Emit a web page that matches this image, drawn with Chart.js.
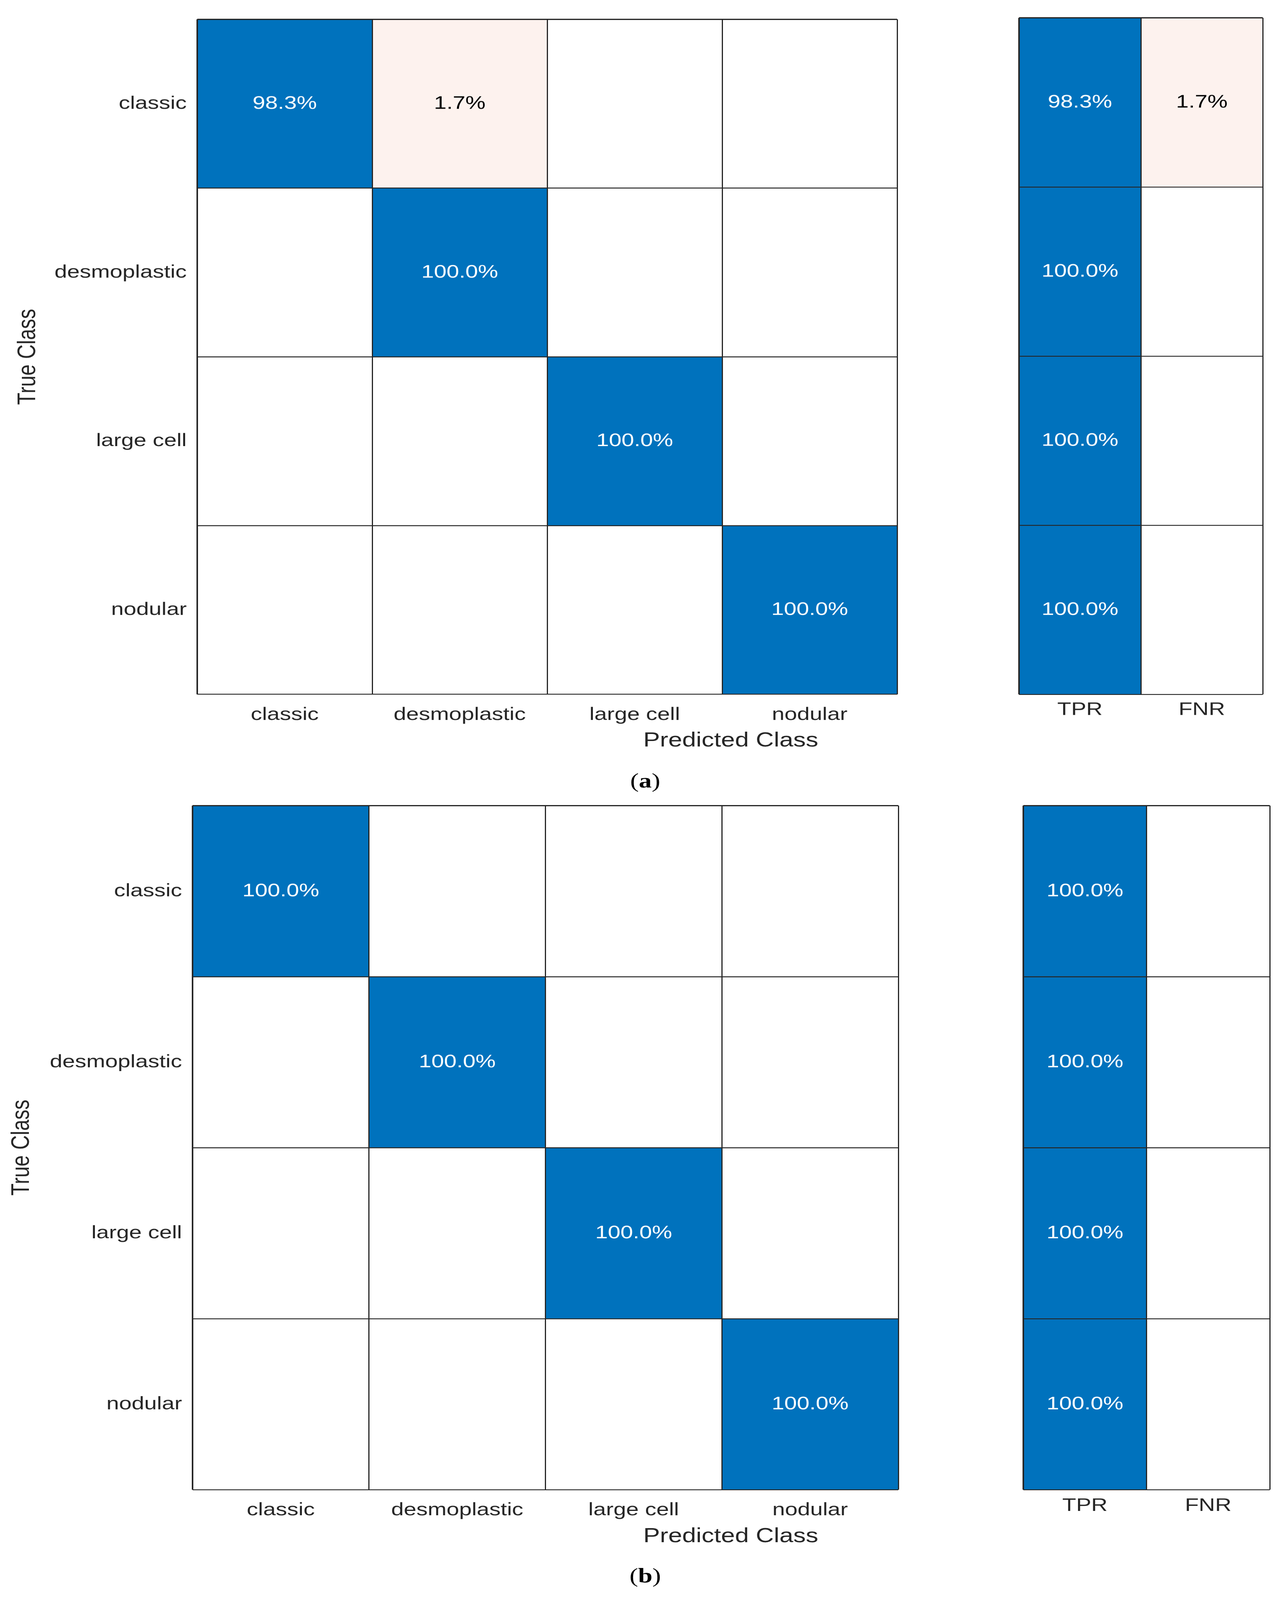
<!DOCTYPE html>
<html>
<head>
<meta charset="utf-8">
<script src="https://cdn.jsdelivr.net/npm/chart.js@4.4.1/dist/chart.umd.min.js"></script>
<style>
  html, body { margin: 0; padding: 0; background: #fff; overflow: hidden; }
  #page { position: relative; width: 3290px; height: 5118px; background: #fff; overflow: hidden; transform-origin: 0 0; }
  canvas { position: absolute; }
  .lbl { position: absolute; transform: translate(-50%, -50%); white-space: nowrap; line-height: 1; }
  .xlab { font: 64px "Liberation Sans", Arial, sans-serif; color: #262626; }
  .cap { font: 66px "Liberation Serif", "Times New Roman", serif; color: #000; }
</style>
</head>
<body>
<div id="page">
  <canvas id="matA" width="2340" height="2420" style="left:0px;top:0px"></canvas>
  <canvas id="rateA" width="730" height="2420" style="left:2560px;top:0px"></canvas>
  <canvas id="matB" width="2340" height="2440" style="left:0px;top:2440px"></canvas>
  <canvas id="rateB" width="730" height="2440" style="left:2560px;top:2440px"></canvas>

  <div class="lbl xlab" style="left:1871px;top:2366px">Predicted Class</div>
  <div class="lbl cap" style="left:1652px;top:2497px">(<b>a</b>)</div>
  <div class="lbl xlab" style="left:1871px;top:4911px">Predicted Class</div>
  <div class="lbl cap" style="left:1652px;top:5040px">(<b>b</b>)</div>
</div>
<script>
// the window can come up shorter than the 5118px figure: squeeze the figure to fit it
const sy = Math.min(1, window.innerHeight / 5118);
if (sy < 1) document.getElementById('page').style.transform = 'scale(1,' + sy + ')';

// class names (rows = true class, columns = predicted class)
const classes = ['classic', 'desmoplastic', 'large cell', 'nodular'];
const rateLabels = ['TPR', 'FNR'];

// (a) row-normalised confusion matrix, %
const matrixA = [
  [98.3, 1.7, 0, 0],
  [0, 100, 0, 0],
  [0, 0, 100, 0],
  [0, 0, 0, 100]
];
const tprA = [98.3, 100, 100, 100];
const fnrA = [1.7, 0, 0, 0];

// (b)
const matrixB = [
  [100, 0, 0, 0],
  [0, 100, 0, 0],
  [0, 0, 100, 0],
  [0, 0, 0, 100]
];
const tprB = [100, 100, 100, 100];
const fnrB = [0, 0, 0, 0];

const BLUE = '#0072bd';
const PALE = '#fdf2ee';
const LINE = '#262626';
const FONT = '"Liberation Sans", Arial, sans-serif';

// one floating bar per cell: x = column category, y = [row, row+1]
function cellsFromMatrix(m, cols) {
  const out = [];
  m.forEach((row, r) => row.forEach((v, c) => {
    out.push({ x: cols[c], y: [r, r + 1], v: v, good: r === c });
  }));
  return out;
}
function cellsFromRates(tpr, fnr) {
  const out = [];
  tpr.forEach((v, r) => out.push({ x: 'TPR', y: [r, r + 1], v: v, good: true }));
  fnr.forEach((v, r) => out.push({ x: 'FNR', y: [r, r + 1], v: v, good: false }));
  return out;
}

const cellText = {
  id: 'cellText',
  afterDatasetsDraw(chart) {
    const ctx = chart.ctx;
    const meta = chart.getDatasetMeta(0);
    const data = chart.data.datasets[0].data;
    ctx.save();
    ctx.font = '58px ' + FONT;
    ctx.textAlign = 'center';
    ctx.textBaseline = 'middle';
    meta.data.forEach((el, i) => {
      const d = data[i];
      if (!d.v) return;
      ctx.fillStyle = d.good ? '#ffffff' : '#000000';
      ctx.fillText(d.v.toFixed(1) + '%', el.x, (el.y + el.base) / 2);
    });
    ctx.restore();
  }
};

// edges of the grid a little heavier than the inner lines
const edgeWidth = c => (c.index === 0 || c.index === c.scale.ticks.length) ? 4 : 3;

function makeChart(id, cols, cells, box) {
  const canvas = document.getElementById(id);
  const W = canvas.width, H = canvas.height;
  return new Chart(canvas, {
    type: 'bar',
    data: {
      labels: cols,
      datasets: [{
        data: cells,
        yAxisID: 'yv',
        barPercentage: 1,
        categoryPercentage: 1,
        borderWidth: 0,
        backgroundColor: c => {
          const d = c.raw;
          if (!d || !d.v) return '#ffffff';
          return d.good ? BLUE : PALE;
        }
      }]
    },
    options: {
      responsive: false,
      devicePixelRatio: 1,
      animation: false,
      events: [],
      layout: { padding: { top: box.t, right: W - box.r, bottom: 0, left: 0 } },
      plugins: { legend: { display: false }, tooltip: { enabled: false } },
      scales: {
        x: {
          type: 'category',
          offset: true,
          grid: { offset: true, color: LINE, lineWidth: edgeWidth, drawTicks: false, z: 1 },
          border: { display: false },
          ticks: { color: LINE, font: { size: 58, family: FONT }, padding: box.xPad, maxRotation: 0, autoSkip: false },
          afterFit: s => { s.height = H - box.b; }
        },
        y: {
          type: 'category',
          labels: classes,
          offset: true,
          grid: { offset: true, color: LINE, lineWidth: edgeWidth, drawTicks: false, z: 1 },
          border: { display: false },
          ticks: { display: box.yTicks, color: LINE, font: { size: 58, family: FONT }, padding: 27, autoSkip: false },
          title: {
            display: box.yTicks,
            text: 'True Class',
            color: LINE,
            font: { size: 64, family: FONT },
            padding: { top: box.titlePad, bottom: 0 }
          },
          afterFit: s => { s.width = box.l; }
        },
        yv: {
          type: 'linear',
          axis: 'y',
          display: false,
          reverse: true,
          min: 0,
          max: classes.length
        }
      }
    },
    plugins: [cellText]
  });
}

makeChart('matA', classes, cellsFromMatrix(matrixA, classes),
  { l: 505, t: 57, r: 2297, b: 2221, xPad: 31, yTicks: true, titlePad: 34 });
makeChart('rateA', rateLabels, cellsFromRates(tprA, fnrA),
  { l: 49, t: 57, r: 673, b: 2221, xPad: 15, yTicks: false, titlePad: 0 });
makeChart('matB', classes, cellsFromMatrix(matrixB, classes),
  { l: 493, t: 137, r: 2300, b: 2325, xPad: 31, yTicks: true, titlePad: 18 });
makeChart('rateB', rateLabels, cellsFromRates(tprB, fnrB),
  { l: 60, t: 137, r: 691, b: 2325, xPad: 17, yTicks: false, titlePad: 0 });
</script>
</body>
</html>
